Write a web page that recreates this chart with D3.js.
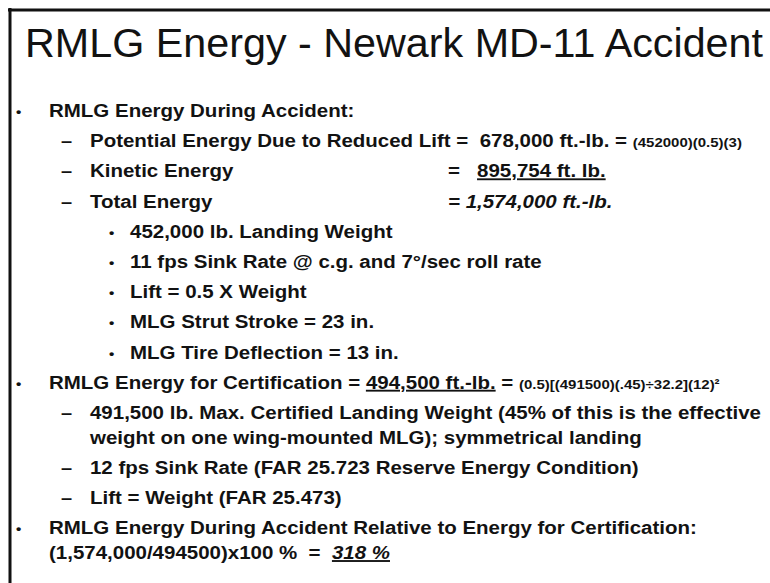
<!DOCTYPE html>
<html>
<head>
<meta charset="utf-8">
<script src="https://cdn.jsdelivr.net/npm/d3@7"></script>
<style>
  html, body { margin: 0; padding: 0; background: #fff; }
  svg text { font-family: "Liberation Sans", Arial, sans-serif; white-space: pre; fill: #121212; }
</style>
</head>
<body>
<div id="slide"></div>
<script>
// Slide content
const titleText = 'RMLG Energy - Newark MD-11 Accident';

// indent level of each row (0 = bullet, 1 = dash, 2 = sub bullet)
const rowLevels = [0, 1, 1, 1, 2, 2, 2, 2, 2, 0, 1, 1, 1, 1, 0, 0];
// true when a row continues the text of the row above
const rowContinued = [false, false, false, false, false, false, false, false, false,
  false, false, true, false, false, false, true];

// pieces of each row: [text, kind]
const rowParts = [
  [['RMLG Energy During Accident:']],
  [['Potential Energy Due to Reduced Lift =  '], ['678,000 ft.-lb.'], [' = '], ['(452000)(0.5)(3)', 'formula']],
  [['Kinetic Energy'], ['=', 'tab'], ['   '], ['895,754 ft. lb.', 'value']],
  [['Total Energy'], ['= 1,574,000 ft.-lb.', 'tabTotal']],
  [['452,000 lb. Landing Weight']],
  [['11 fps Sink Rate @ c.g. and 7°/sec roll rate']],
  [['Lift = 0.5 X Weight']],
  [['MLG Strut Stroke = 23 in.']],
  [['MLG Tire Deflection = 13 in.']],
  [['RMLG Energy for Certification = '], ['494,500 ft.-lb.', 'value'], [' = '], ['(0.5)[(491500)(.45)÷32.2](12)²', 'formula']],
  [['491,500 lb. Max. Certified Landing Weight (45% of this is the effective']],
  [['weight on one wing-mounted MLG); symmetrical landing']],
  [['12 fps Sink Rate (FAR 25.723 Reserve Energy Condition)']],
  [['Lift = Weight (FAR 25.473)']],
  [['RMLG Energy During Accident Relative to Energy for Certification:']],
  [['(1,574,000/494500)x100 %  =  '], ['318 %', 'result']]
];

const width = 770;
const height = 583;

const svg = d3.select('#slide').append('svg')
    .attr('width', width)
    .attr('height', height);

// frame: top and left edges only (the slide is cropped)
svg.append('line')
    .attr('x1', 8).attr('y1', 10).attr('x2', width).attr('y2', 10)
    .attr('stroke', '#111').attr('stroke-width', 3);
svg.append('line')
    .attr('x1', 10).attr('y1', 8).attr('x2', 10).attr('y2', height)
    .attr('stroke', '#111').attr('stroke-width', 3);

svg.append('text')
    .attr('x', 25)
    .attr('y', 57)
    .attr('font-size', 41)
    .attr('textLength', 738)
    .attr('lengthAdjust', 'spacingAndGlyphs')
    .text(titleText);

// vertical position: one unit per row, wrapped rows sit closer
const rowStep = rowContinued.map((c, i) => i === 0 ? 0 : (c ? 0.82 : 1));
const rowPos = Array.from(d3.cumsum(rowStep));
const y = d3.scaleLinear().domain([0, 1]).range([117, 147.2]);

// horizontal position of markers and text per level
const markerX = d3.scaleOrdinal().domain([0, 1, 2]).range([16, 61, 109]);
const textX = d3.scaleOrdinal().domain([0, 1, 2]).range([49, 90, 130]);
const markerGlyph = ['•', '–', '•'];
const tabX = 448;

// each row is squeezed a little in height, like the scanned slide
const rows = svg.append('g').selectAll('g')
    .data(rowParts)
    .enter().append('g')
    .attr('transform', (d, i) => `translate(0,${y(rowPos[i])}) scale(1,0.91)`);

rows.each(function(d, i) {
    if (rowContinued[i]) return;
    const lvl = rowLevels[i];
    d3.select(this).append('text')
        .attr('x', markerX(lvl))
        .attr('y', lvl === 1 ? 0 : -1)
        .attr('font-size', lvl === 1 ? 20 : 15)
        .attr('font-weight', 'bold')
        .text(markerGlyph[lvl]);
});

const lines = rows.append('text')
    .attr('x', (d, i) => textX(rowLevels[i]))
    .attr('y', 0)
    .attr('font-size', 20.5)
    .attr('font-weight', 'bold');

lines.selectAll('tspan')
    .data(d => d)
    .enter().append('tspan')
    .attr('x', p => (p[1] === 'tab' || p[1] === 'tabTotal') ? tabX : null)
    .attr('font-size', p => p[1] === 'formula' ? 15 : null)
    .attr('font-style', p => (p[1] === 'tabTotal' || p[1] === 'result') ? 'italic' : null)
    .style('text-decoration', p => (p[1] === 'value' || p[1] === 'result') ? 'underline' : null)
    .text(p => p[0]);
</script>
</body>
</html>
